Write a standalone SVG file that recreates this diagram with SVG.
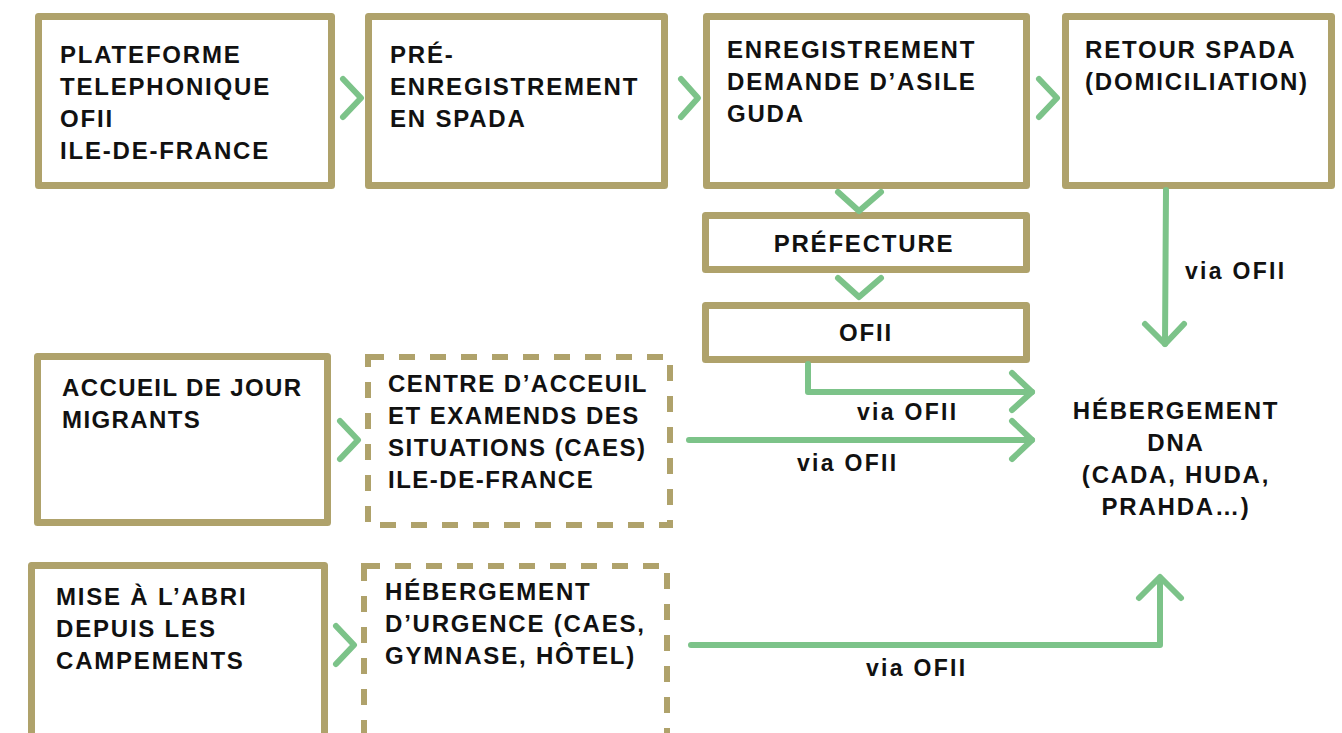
<svg xmlns="http://www.w3.org/2000/svg" width="1342" height="733" viewBox="0 0 1342 733">
<style>
.box{fill:#ffffff;stroke:#afa26b;stroke-width:7;stroke-linejoin:round}
.dash{fill:#ffffff;stroke:#afa26b;stroke-width:6;stroke-dasharray:16 15}
.t{font-family:"Liberation Sans",Arial,sans-serif;font-weight:bold;font-size:24px;letter-spacing:1.8px;fill:#111111}
.c{text-anchor:middle}
.lbl{font-family:"Liberation Sans",Arial,sans-serif;font-weight:bold;font-size:23px;letter-spacing:2.3px;fill:#111111}
.g{fill:none;stroke:#7cc389;stroke-width:6;stroke-linecap:round;stroke-linejoin:round}
</style>
<rect width="1342" height="733" fill="#ffffff"/>
<g id="n-plateforme">
<rect class="box" x="38.5" y="16.5" width="293" height="169"/>
<text class="t" x="60"><tspan x="60" y="63">PLATEFORME</tspan><tspan x="60" y="95">TELEPHONIQUE</tspan><tspan x="60" y="127">OFII</tspan><tspan x="60" y="159">ILE-DE-FRANCE</tspan></text>
</g>
<g id="n-preenregistrement">
<rect class="box" x="368.5" y="16.5" width="296" height="169"/>
<text class="t"><tspan x="390" y="63">PRÉ-</tspan><tspan x="390" y="95">ENREGISTREMENT</tspan><tspan x="390" y="127">EN SPADA</tspan></text>
</g>
<g id="n-enregistrement">
<rect class="box" x="706.5" y="16.5" width="320" height="169"/>
<text class="t"><tspan x="727" y="58">ENREGISTREMENT</tspan><tspan x="727" y="90">DEMANDE D’ASILE</tspan><tspan x="727" y="122">GUDA</tspan></text>
</g>
<g id="n-retour">
<rect class="box" x="1065.5" y="16.5" width="266" height="169"/>
<text class="t"><tspan x="1085" y="58">RETOUR SPADA</tspan><tspan x="1085" y="90">(DOMICILIATION)</tspan></text>
</g>
<g id="n-prefecture">
<rect class="box" x="705.5" y="215.5" width="321" height="54"/>
<text class="t c" x="864" y="252">PRÉFECTURE</text>
</g>
<g id="n-ofii">
<rect class="box" x="705.5" y="305.5" width="321" height="54"/>
<text class="t c" x="866" y="341">OFII</text>
</g>
<g id="n-accueil">
<rect class="box" x="37.5" y="356.5" width="290" height="166"/>
<text class="t" style="letter-spacing:1.4px"><tspan x="62" y="396">ACCUEIL DE JOUR</tspan><tspan x="62" y="428">MIGRANTS</tspan></text>
</g>
<g id="n-caes">
<rect class="dash" x="368" y="357" width="302" height="168"/>
<text class="t" style="letter-spacing:1.5px"><tspan x="388" y="392">CENTRE D’ACCEUIL</tspan><tspan x="388" y="424">ET EXAMENDS DES</tspan><tspan x="388" y="456">SITUATIONS (CAES)</tspan><tspan x="388" y="488">ILE-DE-FRANCE</tspan></text>
</g>
<g id="n-mise">
<rect class="box" x="31.5" y="565.5" width="293" height="185"/>
<text class="t"><tspan x="56" y="605">MISE À L’ABRI</tspan><tspan x="56" y="637">DEPUIS LES</tspan><tspan x="56" y="669">CAMPEMENTS</tspan></text>
</g>
<g id="n-urgence">
<rect class="dash" x="364" y="566" width="303" height="185"/>
<text class="t"><tspan x="385" y="600">HÉBERGEMENT</tspan><tspan x="385" y="632">D’URGENCE (CAES,</tspan><tspan x="385" y="664">GYMNASE, HÔTEL)</tspan></text>
</g>
<g id="n-dna">
<text class="t c"><tspan x="1176" y="419">HÉBERGEMENT</tspan><tspan x="1176" y="451">DNA</tspan><tspan x="1176" y="483">(CADA, HUDA,</tspan><tspan x="1176" y="515">PRAHDA…)</tspan></text>
</g>
<g id="connectors">
<polyline class="g" points="343,79 361,98 343,117"/>
<polyline class="g" points="681,79 698,98 681,117"/>
<polyline class="g" points="1039,79 1057,98 1039,117"/>
<polyline class="g" points="838,192 859,211 881,192"/>
<polyline class="g" points="838,278 859,297 881,278"/>
<polyline class="g" points="340,421 358,440 340,459"/>
<polyline class="g" points="336,626 354,645 336,664"/>
<polyline class="g" points="808,364 808,392 1032,392"/>
<polyline class="g" points="1012,373 1032,392 1012,410"/>
<line class="g" x1="689" y1="440" x2="1032" y2="440"/>
<polyline class="g" points="1012,421 1032,440 1012,459"/>
<line class="g" x1="1166" y1="190" x2="1165" y2="344"/>
<polyline class="g" points="1145,324 1165,344 1184,324"/>
<polyline class="g" points="691,645 1160,645 1160,578"/>
<polyline class="g" points="1139,598 1160,577 1181,598"/>
<text class="lbl" x="857" y="420">via OFII</text>
<text class="lbl" x="797" y="471">via OFII</text>
<text class="lbl" x="1185" y="279">via OFII</text>
<text class="lbl" x="866" y="676">via OFII</text>
</g>
</svg>
